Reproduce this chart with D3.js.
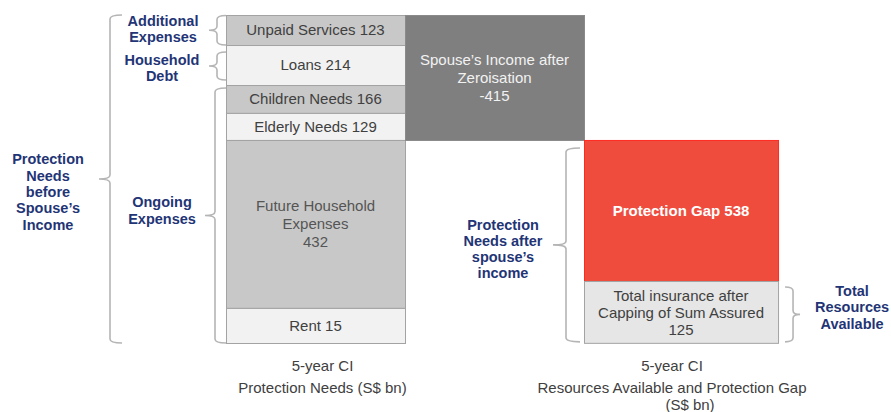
<!DOCTYPE html>
<html>
<head>
<meta charset="utf-8">
<script src="https://cdn.jsdelivr.net/npm/d3@7"></script>
<style>
  html, body { margin: 0; padding: 0; background: #ffffff; }
  svg { display: block; font-family: "Liberation Sans", Arial, sans-serif; }
</style>
</head>
<body>
<svg id="chart" width="891" height="412"></svg>
<script>
// ---------------- DATA ----------------
const columns = ["Protection Needs", "Spouse's Income", "Resources Available"];

// Left stack: protection needs (S$ bn)
const needCategories = ["Unpaid Services", "Loans", "Children Needs", "Elderly Needs", "Future Household\nExpenses", "Rent"];
const needValues = [123, 214, 166, 129, 432, 15];
// plotted extent of each block in the (schematic) chart, % of column height
const needPlotted = [9.15, 12.2, 8.5, 8.25, 51.2, 10.7];

// Waterfall column: spouse's income
const spouseCategory = "Spouse\u2019s Income after\nZeroisation";
const spouseValue = -415;

// Right stack: resources and gap
const resourceCategories = ["Protection Gap", "Total insurance after\nCapping of Sum Assured"];
const resourceValues = [538, 125];
const resourcePlotted = [43.0, 18.85];

// Axis labels
const axisLabels = [
  ["5-year CI", "Protection Needs (S$ bn)"],
  ["5-year CI", "Resources Available and Protection Gap", "(S$ bn)"]
];

// Bracket annotations
const groupLabels = {
  additional: "Additional\nExpenses",
  debt: "Household\nDebt",
  ongoing: "Ongoing\nExpenses",
  before: "Protection\nNeeds\nbefore\nSpouse\u2019s\nIncome",
  after: "Protection\nNeeds after\nspouse\u2019s\nincome",
  total: "Total\nResources\nAvailable"
};

// ---------------- SCALES ----------------
const svg = d3.select("#chart");
const y = d3.scaleLinear().domain([0, 100]).range([15, 343]);
const x = d3.scaleBand().domain(columns).range([226, 763]).paddingInner(0).paddingOuter(0);
const bw = x.bandwidth();
const lastColWidth = bw * 1.084;  // result column drawn slightly wider

const fillAlt = ["#c8c8c8", "#f2f2f2"];
const navy = "#1f3576";
const textGray = "#404040";
const braceColor = "#b5b5b5";
const boxFont = 15;

// ---------------- LEFT STACK ----------------
let acc = 0;
const needData = needCategories.map((c, i) => {
  const d = { name: c, value: needValues[i], y0: acc, y1: acc + needPlotted[i], i };
  acc += needPlotted[i];
  return d;
});

const gLeft = svg.append("g");
gLeft.selectAll("rect").data(needData).join("rect")
  .attr("x", x(columns[0]) + 0.5)
  .attr("y", d => y(d.y0) + 0.5)
  .attr("width", bw)
  .attr("height", d => y(d.y1) - y(d.y0))
  .attr("fill", d => fillAlt[d.i % 2])
  .attr("stroke", "#a3a3a3")
  .attr("stroke-width", 1);

function lines(name, value) {
  const parts = name.split("\n");
  if (parts.length > 1) return parts.concat([String(value)]);
  return [name + " " + value];
}

function multiText(g, cx, cy, arr, lh, opts) {
  const t = g.append("text")
    .attr("x", cx)
    .attr("text-anchor", "middle")
    .attr("font-size", opts.size || boxFont)
    .attr("font-weight", opts.weight || 400)
    .attr("fill", opts.fill || textGray);
  const n = arr.length;
  arr.forEach((s, k) => {
    t.append("tspan")
      .attr("x", cx)
      .attr("y", cy + (k - (n - 1) / 2) * lh)
      .attr("dy", "0.35em")
      .text(s);
  });
  return t;
}

needData.forEach(d => {
  const ls = lines(d.name, d.value);
  multiText(gLeft, x(columns[0]) + bw / 2, (y(d.y0) + y(d.y1)) / 2, ls, 18,
    { fill: d.i === 4 ? "#555555" : textGray });
});

// ---------------- SPOUSE'S INCOME (waterfall drop) ----------------
const spouseTop = 0;
const spouseBottom = needPlotted.slice(0, 4).reduce((a, b) => a + b, 0);
const gMid = svg.append("g");
gMid.append("rect")
  .attr("x", x(columns[1]) + 0.5)
  .attr("y", y(spouseTop) + 0.5)
  .attr("width", bw)
  .attr("height", y(spouseBottom) - y(spouseTop))
  .attr("fill", "#7f7f7f")
  .attr("stroke", "#8a8a8a");
multiText(gMid, x(columns[1]) + bw / 2, (y(spouseTop) + y(spouseBottom)) / 2,
  lines(spouseCategory, spouseValue), 18, { fill: "#f2f2f2" });

// ---------------- RIGHT STACK ----------------
let acc2 = spouseBottom;
const resData = resourceCategories.map((c, i) => {
  const d = { name: c, value: resourceValues[i], y0: acc2, y1: acc2 + resourcePlotted[i], i };
  acc2 += resourcePlotted[i];
  return d;
});
const gRight = svg.append("g");
gRight.selectAll("rect").data(resData).join("rect")
  .attr("x", x(columns[2]) + 0.5)
  .attr("y", d => y(d.y0) + 0.5)
  .attr("width", lastColWidth)
  .attr("height", d => y(d.y1) - y(d.y0))
  .attr("fill", d => d.i === 0 ? "#f04c3e" : "#e6e6e6")
  .attr("stroke", d => d.i === 0 ? "#ff2a1f" : "#a3a3a3");

resData.forEach(d => {
  const cx = x(columns[2]) + lastColWidth / 2, cy = (y(d.y0) + y(d.y1)) / 2;
  if (d.i === 0) {
    multiText(gRight, cx, cy, [d.name + " " + d.value], 18, { fill: "#ffffff", weight: 700, size: 15 });
  } else {
    multiText(gRight, cx, cy + 0.5, lines(d.name, d.value), 17, { fill: textGray });
  }
});

// ---------------- AXIS LABELS ----------------
const axisCenters = [x(columns[0]) + bw / 2 + 7, x(columns[2]) + lastColWidth / 2 - 9];
axisLabels.forEach((ls, i) => {
  const cx = axisCenters[i];
  const t = svg.append("text").attr("text-anchor", "middle").attr("font-size", 15).attr("fill", textGray);
  const ys = [366, 388, 405];
  const dx = [0, 0, 18];
  ls.forEach((s, k) => t.append("tspan").attr("x", cx + dx[k]).attr("y", ys[k]).attr("dy", "0.35em").text(s));
});

// ---------------- BRACES ----------------
function brace(bx, y0, y1, dir, tipLen, hook, tipY) {
  const r = 4;
  const p = d3.path();
  p.moveTo(bx - dir * hook, y0);
  p.quadraticCurveTo(bx, y0, bx, y0 + r);
  p.lineTo(bx, tipY - r);
  p.quadraticCurveTo(bx, tipY, bx + dir * tipLen, tipY);
  p.quadraticCurveTo(bx, tipY, bx, tipY + r);
  p.lineTo(bx, y1 - r);
  p.quadraticCurveTo(bx, y1, bx - dir * hook, y1);
  svg.append("path").attr("d", p.toString())
    .attr("fill", "none").attr("stroke", braceColor).attr("stroke-width", 1.6);
}

function navyText(cx, cy, str, lh) {
  multiText(svg, cx, cy, str.split("\n"), lh || 16.3, { fill: navy, weight: 700, size: 14.5 });
}

const L = x(columns[0]);
const R = x(columns[2]);
const RE = R + lastColWidth;
const inset = 3;

// Additional expenses
{
  const d = needData[0];
  const y0 = y(d.y0) + 0.5, y1 = y(d.y1);
  brace(L - 9, y0, y1, -1, 8, 9, (y0 + y1) / 2);
  navyText(L - 63, (y0 + y1) / 2 - 1, groupLabels.additional);
}
// Household debt
{
  const d = needData[1];
  const y0 = y(d.y0) + 7, y1 = y(d.y1) - 5;
  brace(L - 9, y0, y1, -1, 8, 9, (y0 + y1) / 2);
  navyText(L - 64, (y0 + y1) / 2 + 2, groupLabels.debt);
}
// Ongoing expenses
{
  const y0 = y(needData[2].y0) + inset, y1 = y(needData[5].y1);
  const mid = (y0 + y1) / 2;
  brace(L - 11, y0, y1, -1, 10, 11, mid);
  navyText(L - 64, mid - 5, groupLabels.ongoing);
}
// Protection needs before spouse's income
{
  const y0 = y(0), y1 = y(100);
  const mid = (y0 + y1) / 2;
  brace(L - 116, y0, y1, -1, 11, 12, mid);
  navyText(L - 178, mid + 13, groupLabels.before);
}
// Protection needs after spouse's income
{
  const y0 = y(resData[0].y0) + 8, y1 = y(resData[1].y1) - 1;
  const mid = (y0 + y1) / 2;
  brace(R - 18, y0, y1, -1, 13, 14, mid);
  navyText(R - 81, mid + 4, groupLabels.after);
}
// Total resources available
{
  const y0 = y(resData[1].y0) + 6, y1 = y(resData[1].y1) - 1;
  const mid = (y0 + y1) / 2;
  brace(RE + 15, y0, y1, 1, 7, 8, mid);
  navyText(RE + 74, mid - 7, groupLabels.total);
}
</script>
</body>
</html>
